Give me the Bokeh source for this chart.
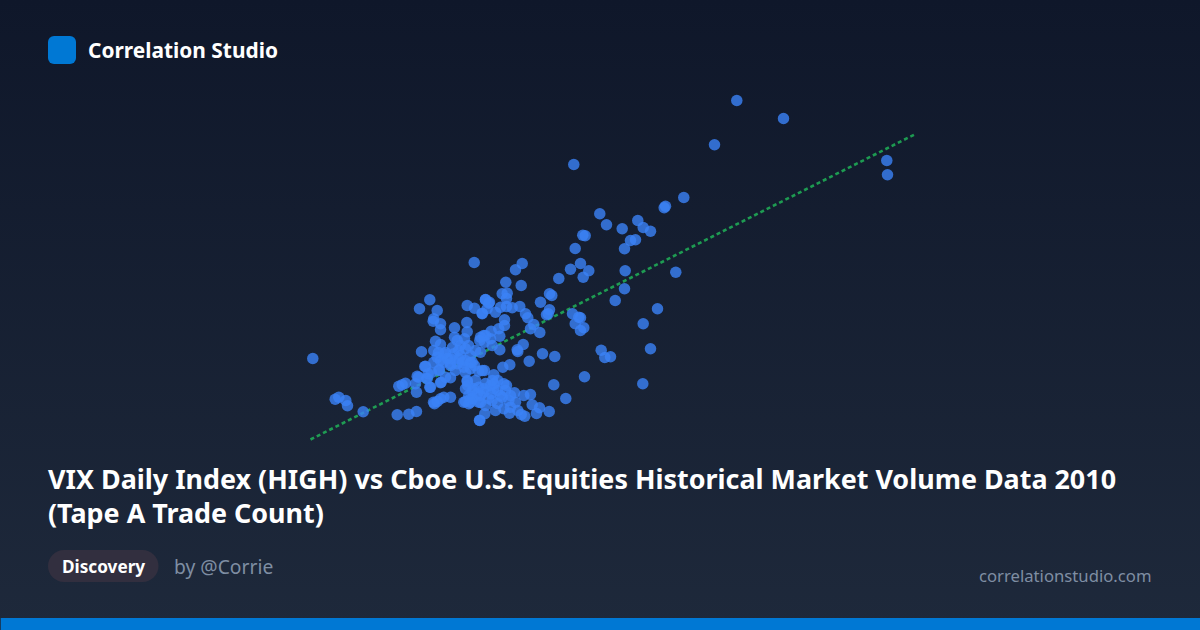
from bokeh.embed import file_html
from bokeh.models import BoxAnnotation, GlobalInlineStyleSheet, Label, Range1d
from bokeh.plotting import figure
from bokeh.resources import INLINE

# values, in its own pixel scale
tape_a_trades = [
    736.3, 783, 714, 573.3, 886.3, 887, 683.3, 665, 663.7, 599.3, 606, 637.3, 621.7, 642.7, 650,
    582.3, 584.7, 630, 635, 574.7, 624, 521.7, 515, 580, 570, 588.3, 624.7, 675.3, 582.7, 558.3,
    505.3, 520.7, 549, 551.3, 624, 614.7, 540, 506.7, 501.7, 506,
    657, 572, 580, 642.7, 574.7, 583.3, 580, 650, 600.7, 604.3, 610, 584, 642.3,
    485, 489, 500, 506, 511.7, 519.3, 486.7, 495, 481.7, 549, 547.7, 546, 525, 527.3, 533.3, 530,
    539.3, 504, 504, 578.3, 498.3, 490.7, 485, 480, 490, 499.3, 484, 491.7, 499.3, 522.7, 516.7,
    429.3, 419, 436.7, 433.3, 432.7, 440, 440, 454, 466.3, 466.7, 474, 481.7, 485, 488.3, 466.7,
    454, 456.7, 435, 440, 421, 433.3, 464, 483.3, 479.3, 443.3, 453.3, 465, 470, 480,
    425, 433.3, 439, 427.7, 416.7, 426, 415, 429.3, 416, 398.3, 401.7, 405, 450, 440, 445,
    434, 436.7, 440, 443.3, 450, 433, 396.7, 408.3, 416, 466.7, 467.3, 465, 468.3, 471.7, 476.7,
    483.3, 478.3, 470, 479.3, 484.3, 478.3, 485, 450, 443, 456.7, 463.3, 470, 481.7, 478,
    458.3, 465, 471.7, 450, 436.7,
    517.3, 542, 528.7, 554.3, 509.3, 502.3, 484, 553.3, 565.3, 493.3, 497.3, 503.3, 493.3,
    473.3, 466.7, 465, 470, 468.3, 483.3, 491.7, 490.7, 493.3, 501.7, 514, 523.3, 530, 508.3, 515,
    531.7, 539, 548.7, 536, 524.3, 520.7, 517.3, 509, 503.3, 495, 479, 510, 463.3,
    312.3, 338.3, 334.7, 345.3, 347, 362.7, 473.7, 424.3, 418, 426.7, 438.3, 430, 440.7,
    445, 450, 455, 460, 462, 468, 470, 475, 458, 465, 440, 447, 438, 474, 431, 452, 460,
    475, 480, 490, 497, 505, 485, 500, 488, 472, 480, 510, 497, 506, 492,
]
vix_high = [
    100, 118, 144.3, 164, 160, 174.3, 197, 205.7, 207.3, 213.3, 224.3, 220, 228.3, 227, 230.7,
    234.7, 235.3, 240, 239.3, 248, 248.3, 263, 269.3, 263, 268.7, 270.3, 270.3, 271.7, 276.7, 278,
    281.7, 285, 293.3, 295, 288.3, 300, 301.7, 292.7, 293.3, 298,
    308.3, 313.3, 317.3, 323.3, 323.3, 327.3, 330, 348.3, 349.7, 357, 356.3, 376.3, 383.3,
    299, 301.7, 306.7, 306, 307.3, 306, 308.3, 311.7, 313.3, 309.3, 313.3, 314.3, 313.3, 317.3, 324, 328.3,
    332, 319.3, 325, 316.7, 328.3, 330.7, 335, 336.7, 338.3, 335.7, 341.7, 345, 349.3, 344, 349.3,
    299.3, 308.3, 310, 318.3, 320.7, 323.3, 329.3, 327.3, 322, 305, 307.7, 312.7, 299.3, 302.7, 331.3,
    336.7, 340, 340.7, 344, 351.3, 350, 338.3, 335, 340, 353.3, 353.3, 348.3, 355, 351.7,
    365.7, 361.7, 369.3, 373.3, 375.7, 377.7, 383.3, 386.7, 391.7, 385.7, 384.3, 382.7, 377.3, 382.3, 376.7,
    403.3, 401, 398.3, 396.7, 396.7, 401.7, 414.3, 413.7, 411, 380, 385, 401, 395, 390, 393.3,
    388.3, 386.7, 401.7, 420, 413.3, 401.7, 405, 363.3, 361.7, 363.3, 366.7, 368.3, 370, 370.7,
    358.3, 360, 361.7, 358.3, 356.7,
    351, 353.3, 360.7, 356, 364.3, 366.7, 370, 384.3, 398, 374.3, 380, 383.3, 383.3,
    388.3, 381, 388.3, 398.3, 403.3, 391.7, 400, 393.3, 388.3, 396.7, 392.3, 395, 394, 400, 401.7,
    404.3, 407.3, 411, 413, 415.7, 414, 410, 412.7, 408.3, 410, 419.7, 406.7, 401.7,
    358, 396.7, 398.7, 400, 405.3, 411.3, 262, 366, 376.7, 378.3, 370, 386.7, 381.7,
    352, 365, 370, 355, 362, 345, 362, 350, 350, 372, 360, 358, 352, 365, 372, 347, 345,
    380, 395, 385, 390, 390, 383, 395, 398, 398, 402, 395, 403, 385, 380,
]
trend_x = [310, 916]
trend_y = [439, 133]

brand = "Correlation Studio"
title_lines = [
    "VIX Daily Index (HIGH) vs Cboe U.S. Equities Historical Market Volume Data 2010",
    "(Tape A Trade Count)",
]
tag = "Discovery"
author = "by @Corrie"
site = "correlationstudio.com"

FONT = "Noto Sans"

page_css = GlobalInlineStyleSheet(css="""
html, body { margin: 0; padding: 0; height: 100%; overflow: hidden;
  background: linear-gradient(180deg, #0f172a 0%, #1e293b 100%); }
""")

p = figure(width=1200, height=630, output_backend="svg", toolbar_location=None,
           x_range=Range1d(0, 1200), y_range=Range1d(630, 0),
           min_border=0, outline_line_color=None,
           background_fill_color=None, border_fill_color=None,
           stylesheets=[page_css])
p.axis.visible = False
p.grid.visible = False

p.line(trend_x, trend_y, line_color="#22c55e", line_alpha=0.75, line_width=2.6, line_dash="4 3")
p.scatter(tape_a_trades, vix_high, size=11.5, fill_color="#3b82f6", fill_alpha=0.8, line_color=None)

p.add_layout(BoxAnnotation(left=47.5, right=75.5, top=35.5, bottom=63.5, border_radius=6,
                           fill_color="#0078d4", fill_alpha=1, line_color=None))
p.add_layout(BoxAnnotation(left=47.5, right=158, top=549.5, bottom=581.5, border_radius=16,
                           fill_color="#322f3f", fill_alpha=1, line_color=None))
p.add_layout(BoxAnnotation(left=0, right=1200, top=617.5, bottom=630,
                           fill_color="#0078d4", fill_alpha=1, line_color=None))

def add_text(x, y, text, size, color, style="normal", align="left"):
    p.add_layout(Label(x=x, y=y, text=text, text_font=FONT, text_font_size=size,
                       text_color=color, text_font_style=style,
                       text_align=align, text_baseline="middle"))

add_text(87.5, 49, brand, "20.9px", "#ffffff", "bold")
add_text(47.5, 477.5, title_lines[0], "26.9px", "#ffffff", "bold")
add_text(47.5, 511.5, title_lines[1], "26.9px", "#ffffff", "bold")
add_text(61.5, 566, tag, "17.2px", "#ffffff", "bold")
add_text(173.5, 565.5, author, "19.3px", "#7f8ea3")
add_text(1151, 574.5, site, "16.7px", "#7f8ea3", align="right")

open("out.html", "w").write(file_html(p, INLINE))
